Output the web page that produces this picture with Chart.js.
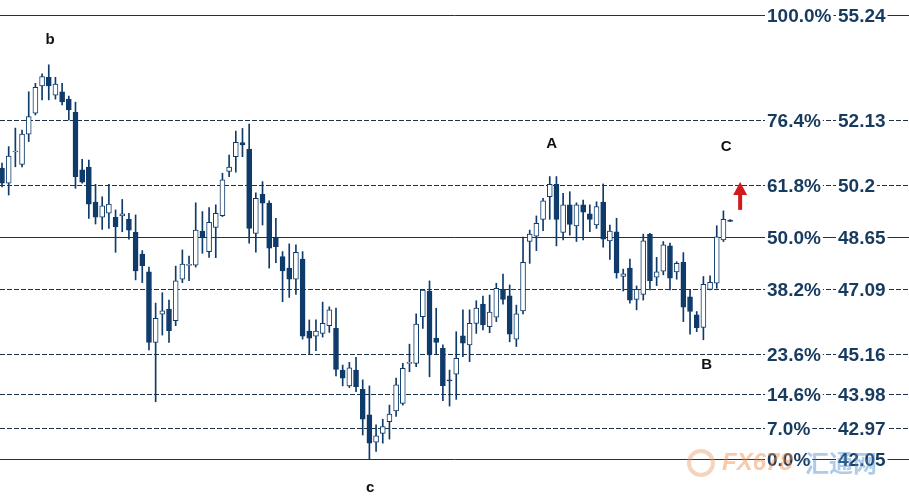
<!DOCTYPE html>
<html>
<head>
<meta charset="utf-8">
<script src="https://cdn.jsdelivr.net/npm/chart.js@4.4.0/dist/chart.umd.min.js"></script>
<style>
  html, body { margin: 0; padding: 0; background: #fff; }
  #wrap { width: 909px; height: 500px; }
</style>
</head>
<body>
<div id="wrap"><canvas id="myChart" width="909" height="500"></canvas></div>
<script>
// candle data (oldest first)
const opens = [50.69, 50.24, 51.17, 50.80, 51.70, 52.32, 53.13, 53.39, 52.86, 52.96,
    52.74, 52.35, 50.64, 50.72, 49.68, 49.23, 49.35, 49.23, 49.27, 49.17,
    48.78, 48.14, 47.61, 45.51, 46.35, 46.50, 46.16, 47.39, 47.80, 47.81,
    48.82, 48.21, 48.93, 49.28, 50.59, 51.03, 51.45, 51.26, 48.75, 49.91,
    49.65, 48.62, 48.06, 47.72, 47.39, 47.99, 45.85, 45.70, 45.78, 46.01,
    45.93, 44.69, 44.22, 44.69, 44.12, 43.36, 42.55, 42.81, 43.16, 43.48,
    43.70, 44.89, 44.89, 46.28, 47.04, 45.64, 45.34, 44.40, 44.57, 45.71,
    45.44, 46.08, 46.65, 45.98, 46.26, 47.09, 46.90, 45.61, 46.45, 48.51,
    48.67, 49.17, 49.84, 50.21, 48.78, 49.60, 48.97, 49.60, 49.33, 49.00,
    49.68, 48.53, 48.80, 47.47, 47.72, 46.79, 46.94, 48.73, 47.45, 47.63,
    48.38, 47.61, 47.89, 46.87, 46.33, 45.96, 47.09, 47.27, 48.56, 49.15];
const highs = [50.84, 51.33, 51.88, 51.82, 52.96, 53.21, 53.49, 53.76, 53.39, 53.21,
    52.83, 52.65, 50.95, 50.93, 50.21, 49.84, 50.21, 49.45, 49.76, 49.35,
    49.30, 48.24, 47.75, 46.68, 46.99, 46.77, 47.78, 48.26, 48.08, 49.66,
    49.40, 49.52, 49.60, 50.54, 51.08, 51.79, 51.87, 52.00, 49.96, 50.29,
    49.72, 49.20, 48.21, 48.44, 48.41, 48.21, 46.18, 46.18, 46.71, 46.57,
    46.53, 44.84, 44.92, 45.07, 44.40, 44.22, 43.06, 43.23, 43.65, 44.45,
    44.89, 45.46, 46.36, 47.07, 47.34, 46.53, 45.44, 44.69, 45.83, 46.48,
    46.48, 46.75, 46.89, 46.92, 47.27, 47.54, 47.22, 46.62, 48.64, 48.85,
    49.27, 49.79, 50.44, 50.44, 49.94, 49.99, 49.66, 49.74, 49.60, 49.69,
    50.22, 49.00, 49.20, 47.69, 47.99, 47.19, 48.73, 48.75, 48.04, 48.51,
    48.46, 47.91, 48.18, 47.07, 46.43, 47.47, 47.49, 48.98, 49.42, 49.16];
const lows = [50.13, 49.89, 50.73, 50.73, 51.48, 52.27, 52.72, 52.72, 52.74, 52.57,
    52.12, 50.09, 50.24, 49.20, 49.03, 48.87, 48.90, 48.19, 48.80, 48.58,
    47.37, 47.29, 45.29, 43.75, 45.73, 45.51, 46.01, 47.29, 47.35, 47.75,
    48.16, 48.04, 48.03, 49.25, 50.44, 50.57, 51.03, 48.46, 48.19, 49.00,
    47.72, 47.88, 46.72, 46.85, 46.94, 45.61, 45.16, 45.27, 45.67, 45.81,
    44.52, 44.22, 44.17, 44.05, 42.76, 42.05, 42.27, 42.52, 42.64, 43.31,
    43.65, 44.64, 44.79, 45.93, 44.49, 45.17, 43.78, 43.62, 43.82, 45.09,
    44.94, 45.78, 45.88, 45.80, 46.13, 46.65, 45.53, 45.39, 46.36, 47.86,
    48.24, 48.83, 49.17, 48.38, 48.56, 48.70, 48.51, 48.56, 48.80, 48.90,
    48.34, 47.98, 47.42, 47.04, 46.68, 46.48, 46.77, 47.07, 47.20, 47.52,
    47.07, 47.39, 46.13, 45.76, 45.83, 45.59, 47.07, 47.12, 48.51, 49.11];
const closes = [50.24, 51.05, 51.20, 51.70, 52.22, 53.09, 53.41, 53.13, 53.19, 52.66,
    52.42, 50.44, 50.27, 49.62, 49.23, 49.57, 49.62, 48.95, 49.33, 48.85,
    47.64, 47.79, 45.51, 46.23, 46.45, 45.86, 47.34, 47.84, 47.83, 48.85,
    48.64, 49.08, 49.35, 50.34, 50.72, 51.46, 51.38, 48.90, 49.79, 49.65,
    48.31, 48.36, 47.64, 47.39, 48.19, 45.70, 45.64, 45.85, 46.08, 46.48,
    44.71, 44.45, 44.76, 44.20, 43.23, 42.52, 42.74, 43.01, 43.38, 44.25,
    44.74, 44.92, 46.06, 47.07, 45.14, 45.51, 44.23, 44.37, 45.04, 45.49,
    46.08, 46.53, 46.03, 46.41, 47.12, 46.79, 45.76, 46.36, 47.89, 48.73,
    49.05, 49.72, 50.21, 49.17, 49.60, 49.02, 49.60, 49.38, 49.17, 49.55,
    48.58, 48.82, 47.58, 47.55, 46.77, 47.09, 48.53, 47.35, 47.61, 48.41,
    47.42, 47.86, 46.56, 46.43, 45.95, 47.24, 47.30, 48.65, 49.17, 49.11];

// fibonacci levels
const fibPcts = ['100.0%', '76.4%', '61.8%', '50.0%', '38.2%', '23.6%', '14.6%', '7.0%', '0.0%'];
const fibPrices = [55.24, 52.13, 50.2, 48.65, 47.09, 45.16, 43.98, 42.97, 42.05];
const fibLabels = ['55.24', '52.13', '50.2', '48.65', '47.09', '45.16', '43.98', '42.97', '42.05'];

// wave labels (candle index, price)
const waveNames = ['b', 'A', 'C', 'B', 'c'];
const waveIdx = [7.2, 82.3, 108.4, 105.5, 55.1];
const wavePrice = [54.50, 51.40, 51.32, 44.84, 41.19];

const navy = '#0f3b6b';
const txtNavy = '#173b5f';
const lineCol = '#1d3149';

const bodies = opens.map(function (o, i) {
    return { x: i, y: [Math.min(o, closes[i]), Math.max(o, closes[i])] };
});
const wicks = lows.map(function (l, i) {
    return { x: i, y: [l, highs[i]] };
});

const fibPlugin = {
    id: 'fib',
    beforeDatasetsDraw(chart) {
        const ctx = chart.ctx, y = chart.scales.y, a = chart.chartArea;
        ctx.save();
        ctx.strokeStyle = lineCol;
        ctx.lineWidth = 1;
        fibPcts.forEach(function (p, i) {
            const py = Math.round(y.getPixelForValue(fibPrices[i])) + 0.5;
            const solid = p === '100.0%' || p === '50.0%' || p === '0.0%';
            ctx.setLineDash(solid ? [] : [5, 2]);
            ctx.beginPath();
            ctx.moveTo(a.left, py);
            ctx.lineTo(a.right, py);
            ctx.stroke();
        });
        ctx.restore();
    },
    afterDatasetsDraw(chart) {
        const ctx = chart.ctx, y = chart.scales.y, x = chart.scales.x;
        ctx.save();
        ctx.font = 'bold 19px "Liberation Sans", Arial, sans-serif';
        ctx.textBaseline = 'middle';
        ctx.textAlign = 'left';
        fibPcts.forEach(function (p, i) {
            const py = Math.round(y.getPixelForValue(fibPrices[i])) + 0.5;
            [[p, 767], [fibLabels[i], 838]].forEach(function (t) {
                const w = ctx.measureText(t[0]).width;
                ctx.fillStyle = '#fff';
                ctx.fillRect(t[1] - 2, py - 10, w + 4, 20);
                ctx.fillStyle = txtNavy;
                ctx.fillText(t[0], t[1], py + 1);
            });
        });

        // wave letters
        ctx.font = 'bold 15px "Liberation Sans", Arial, sans-serif';
        ctx.textAlign = 'center';
        ctx.fillStyle = '#111';
        waveNames.forEach(function (n, i) {
            ctx.fillText(n, x.getPixelForValue(waveIdx[i]), y.getPixelForValue(wavePrice[i]));
        });

        // red arrow
        const ax = x.getPixelForValue(110.5);
        const top = y.getPixelForValue(50.28), bot = y.getPixelForValue(49.45);
        ctx.fillStyle = '#d21c1c';
        ctx.fillRect(ax - 2, top + 11, 4, bot - top - 11);
        ctx.beginPath();
        ctx.moveTo(ax, top);
        ctx.lineTo(ax - 7, top + 13);
        ctx.lineTo(ax + 7, top + 13);
        ctx.closePath();
        ctx.fill();

        // watermark
        ctx.globalAlpha = 0.45;
        ctx.beginPath();
        ctx.strokeStyle = '#e9a070';
        ctx.lineWidth = 4;
        ctx.arc(701, 463, 12, 0, Math.PI * 2);
        ctx.stroke();
        ctx.font = 'italic bold 24px "Liberation Sans", Arial, sans-serif';
        ctx.textAlign = 'left';
        ctx.fillStyle = '#f08a40';
        ctx.fillText('FX678', 722, 463);
        ctx.font = 'bold 24px "Noto Sans CJK SC", sans-serif';
        ctx.fillStyle = '#4a8fd0';
        ctx.fillText('汇通网', 805, 463);
        ctx.restore();
    }
};

const config = {
    type: 'bar',
    data: {
        datasets: [{
            data: bodies,
            backgroundColor: bodies.map(function (b, i) { return closes[i] >= opens[i] ? '#ffffff' : navy; }),
            borderColor: navy,
            borderWidth: 1,
            borderSkipped: false,
            barThickness: 5,
            grouped: false
        }, {
            data: wicks,
            backgroundColor: navy,
            borderWidth: 0,
            barThickness: 1,
            grouped: false
        }]
    },
    options: {
        responsive: false,
        animation: false,
        devicePixelRatio: 1,
        layout: { padding: 0 },
        plugins: { legend: { display: false }, tooltip: { enabled: false } },
        scales: {
            x: { type: 'linear', min: -0.3, max: 135.78, offset: false, display: false },
            y: { type: 'linear', min: 40.83, max: 55.686, display: false }
        }
    },
    plugins: [fibPlugin]
};

window.onload = function () {
    const ctx = document.getElementById('myChart').getContext('2d');
    new Chart(ctx, config);
};
</script>
</body>
</html>
